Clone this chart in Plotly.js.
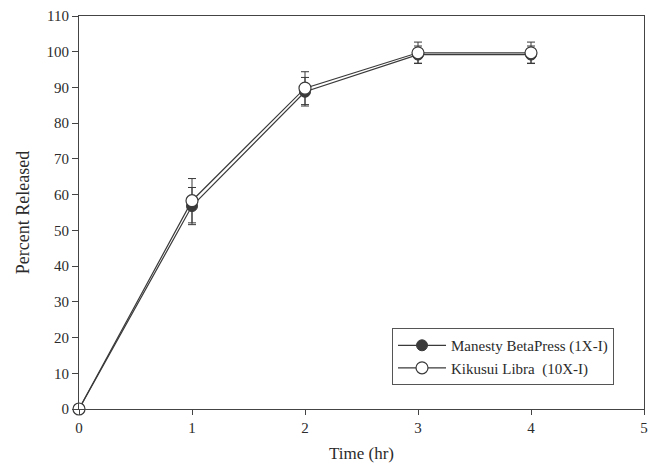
<!DOCTYPE html>
<html>
<head>
<meta charset="utf-8">
<script src="https://cdn.plot.ly/plotly-3.0.1.min.js"></script>
<style>
  html, body { margin: 0; padding: 0; background: #fff; }
  #chart { width: 652px; height: 470px; }
</style>
</head>
<body>
<div id="chart"></div>
<script>
// Dissolution time points (hours)
const timeHr = [0, 1, 2, 3, 4];

// Manesty BetaPress (1X-I): mean percent released and standard deviation
const manestyMean = [0, 56.8, 88.8, 99.2, 99.2];
const manestySd   = [0, 5.2, 4.0, 2.4, 2.4];

// Kikusui Libra (10X-I): mean percent released and standard deviation
const kikusuiMean = [0, 58.3, 89.8, 99.7, 99.7];
const kikusuiSd   = [0, 6.2, 4.6, 3.0, 3.0];

const seriesNames = ['Manesty BetaPress (1X-I)', 'Kikusui Libra  (10X-I)'];

const ink = '#3a3a3a';
const textInk = '#2b2b2b';
const serif = '"Liberation Serif", "Times New Roman", serif';

const traces = [
  {
    x: timeHr, y: manestyMean, name: seriesNames[0],
    type: 'scatter', mode: 'lines+markers', cliponaxis: false,
    line: { color: ink, width: 1.2 },
    marker: { symbol: 'circle', size: 11, color: ink, line: { color: ink, width: 1 } },
    error_y: { type: 'data', array: manestySd, visible: true, color: ink, thickness: 1, width: 4 }
  },
  {
    x: timeHr, y: kikusuiMean, name: seriesNames[1],
    type: 'scatter', mode: 'lines+markers', cliponaxis: false,
    line: { color: ink, width: 1.2 },
    marker: { symbol: 'circle', size: 12, color: '#ffffff', line: { color: ink, width: 1.2 } },
    error_y: { type: 'data', array: kikusuiSd, visible: true, color: ink, thickness: 1, width: 4 }
  }
];

const layout = {
  width: 652, height: 470,
  margin: { l: 79, r: 8, t: 16, b: 61 },
  paper_bgcolor: '#fff', plot_bgcolor: '#fff',
  font: { family: serif, size: 15, color: textInk },
  showlegend: true,
  legend: {
    x: 0.554, y: 0.206, xanchor: 'left', yanchor: 'top',
    bgcolor: '#fff', bordercolor: '#555', borderwidth: 1,
    font: { family: serif, size: 15, color: textInk },
    tracegroupgap: 0, itemwidth: 48
  },
  xaxis: {
    range: [0, 5], tickvals: [0, 1, 2, 3, 4, 5],
    showgrid: false, zeroline: false,
    showline: true, linecolor: '#444', linewidth: 1, mirror: true,
    ticks: 'outside', ticklen: 5, tickcolor: '#444',
    tickfont: { family: serif, size: 15, color: textInk },
    title: { text: 'Time (hr)', font: { family: serif, size: 17, color: textInk }, standoff: 12 }
  },
  yaxis: {
    range: [0, 110], tickvals: [0, 10, 20, 30, 40, 50, 60, 70, 80, 90, 100, 110],
    showgrid: false, zeroline: false,
    showline: true, linecolor: '#444', linewidth: 1, mirror: true,
    ticks: 'outside', ticklen: 6, tickcolor: '#444',
    tickfont: { family: serif, size: 15, color: textInk },
    title: { text: 'Percent Released', font: { family: serif, size: 18, color: textInk }, standoff: 12 }
  }
};

Plotly.newPlot('chart', traces, layout, { displayModeBar: false, staticPlot: true });
</script>
</body>
</html>
